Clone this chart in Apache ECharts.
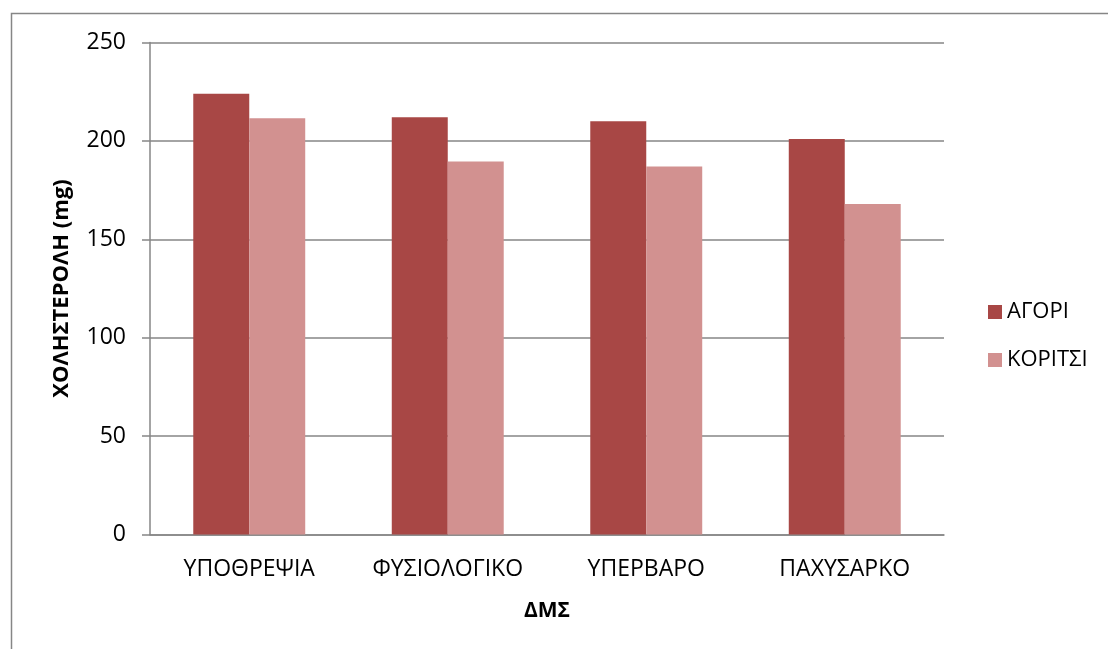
<!DOCTYPE html>
<html>
<head>
<meta charset="utf-8">
<script src="https://cdn.jsdelivr.net/npm/echarts@6/dist/echarts.min.js"></script>
<style>
  html, body { margin: 0; padding: 0; background: #ffffff; }
  #chart { width: 1108px; height: 649px; }
</style>
</head>
<body>
<div id="chart"></div>
<script>
// BMI categories and mean cholesterol (mg) for boys and girls
const categories = ['ΥΠΟΘΡΕΨΙΑ', 'ΦΥΣΙΟΛΟΓΙΚΟ', 'ΥΠΕΡΒΑΡΟ', 'ΠΑΧΥΣΑΡΚΟ'];
const boys = [224, 212, 210, 201];
const girls = [211.5, 189.5, 187, 168];
const seriesNames = ['ΑΓΟΡΙ', 'ΚΟΡΙΤΣΙ'];
const yTicks = { min: 0, max: 250, interval: 50 };

const FONT = '"Open Sans", "DejaVu Sans", sans-serif';
const GRID_GRAY = '#868686';

const chart = echarts.init(document.getElementById('chart'), null, { renderer: 'canvas' });

chart.setOption({
  backgroundColor: '#ffffff',
  animation: false,
  textStyle: { fontFamily: FONT, color: '#000000' },
  graphic: [{
    type: 'rect',
    shape: { x: 11.5, y: 13.5, width: 1300, height: 800 },
    style: { fill: 'none', stroke: GRID_GRAY, lineWidth: 1.5 },
    silent: true
  }],
  grid: { left: 150, right: 164, top: 42.5, bottom: 114.5, containLabel: false },
  legend: {
    orient: 'vertical',
    left: 988,
    top: 301,
    padding: 0,
    itemWidth: 14,
    itemHeight: 14,
    itemGap: 26,
    icon: 'rect',
    textStyle: { fontFamily: FONT, fontSize: 22, color: '#000000' },
    data: seriesNames
  },
  xAxis: {
    type: 'category',
    data: categories,
    name: 'ΔΜΣ',
    nameLocation: 'middle',
    nameGap: 66,
    nameTextStyle: { fontFamily: FONT, fontSize: 21, fontWeight: 'bold', color: '#000000' },
    axisLine: { show: true, lineStyle: { color: GRID_GRAY, width: 1.5 } },
    axisTick: { show: false },
    axisLabel: { margin: 23, fontFamily: FONT, fontSize: 23, color: '#000000' },
    splitLine: { show: false }
  },
  yAxis: {
    type: 'value',
    min: yTicks.min,
    max: yTicks.max,
    interval: yTicks.interval,
    name: 'ΧΟΛΗΣΤΕΡΟΛΗ (mg)',
    nameLocation: 'middle',
    nameGap: 77,
    nameRotate: 90,
    nameTextStyle: { fontFamily: FONT, fontSize: 22, fontWeight: 'bold', color: '#000000' },
    axisLine: { show: true, lineStyle: { color: GRID_GRAY, width: 1.5 } },
    axisTick: { show: true, inside: false, length: 8, lineStyle: { color: GRID_GRAY, width: 1.5 } },
    axisLabel: { margin: 24, fontFamily: FONT, fontSize: 23, color: '#000000' },
    splitLine: { show: true, lineStyle: { color: GRID_GRAY, width: 1.5 } }
  },
  series: [
    {
      name: seriesNames[0],
      type: 'bar',
      data: boys,
      barWidth: '28.2%',
      barGap: '0%',
      itemStyle: { color: '#A84745' }
    },
    {
      name: seriesNames[1],
      type: 'bar',
      data: girls,
      barWidth: '28.2%',
      barGap: '0%',
      itemStyle: { color: '#D29190' }
    }
  ]
});
</script>
</body>
</html>
